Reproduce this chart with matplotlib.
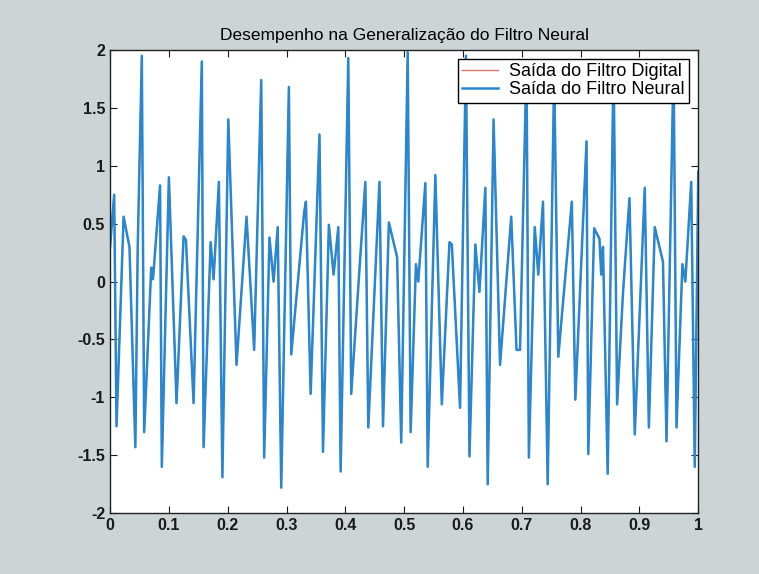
import numpy as np
import matplotlib.pyplot as plt

plt.rcParams['font.family'] = ['Liberation Sans', 'DejaVu Sans']

# pontos de extremo (t em s, amplitude)
t = [0.000, 0.007, 0.011, 0.023, 0.033, 0.043, 0.047, 0.054, 0.058, 0.070,
     0.073, 0.085, 0.088, 0.100, 0.113, 0.125, 0.129, 0.142, 0.156, 0.159,
     0.171, 0.176, 0.185, 0.191, 0.201, 0.215, 0.232, 0.245, 0.257, 0.262,
     0.271, 0.278, 0.285, 0.291, 0.304, 0.308, 0.330, 0.333, 0.341, 0.356,
     0.362, 0.372, 0.380, 0.388, 0.392, 0.405, 0.410, 0.423, 0.434, 0.439,
     0.458, 0.464, 0.474, 0.488, 0.495, 0.506, 0.511, 0.520, 0.524, 0.536,
     0.540, 0.553, 0.564, 0.577, 0.581, 0.595, 0.605, 0.611, 0.621, 0.628,
     0.638, 0.642, 0.652, 0.663, 0.682, 0.691, 0.697, 0.708, 0.712, 0.722,
     0.728, 0.736, 0.744, 0.755, 0.762, 0.785, 0.791, 0.810, 0.813, 0.823,
     0.832, 0.835, 0.838, 0.846, 0.856, 0.862, 0.872, 0.883, 0.892, 0.909,
     0.916, 0.926, 0.940, 0.946, 0.958, 0.963, 0.973, 0.978, 0.988, 0.994,
     1.000]
y = [0.30, 0.75, -1.25, 0.56, 0.30, -1.43, 0.29, 1.95, -1.30, 0.12,
     0.02, 0.83, -1.60, 0.90, -1.05, 0.39, 0.36, -1.05, 1.90, -1.43,
     0.34, 0.02, 0.86, -1.69, 1.40, -0.72, 0.56, -0.59, 1.74, -1.52,
     0.38, 0.00, 0.47, -1.78, 1.68, -0.63, 0.60, 0.69, -0.97, 1.27,
     -1.47, 0.49, 0.06, 0.47, -1.64, 1.93, -0.97, 0.03, 0.86, -1.26,
     0.86, -1.25, 0.51, 0.21, -1.39, 1.98, -1.30, 0.15, 0.00, 0.85,
     -1.60, 0.92, -1.06, 0.34, 0.32, -1.09, 1.95, -1.51, 0.32, -0.09,
     0.81, -1.75, 1.40, -0.72, 0.56, -0.59, -0.59, 1.90, -1.52, 0.47,
     0.06, 0.69, -1.75, 1.80, -0.65, 0.69, -1.02, 1.21, -1.49, 0.46,
     0.37, 0.06, 0.30, -1.66, 1.90, -1.06, -0.10, 0.72, -1.32, 0.81,
     -1.26, 0.47, 0.17, -1.38, 1.90, -1.26, 0.15, 0.00, 0.86, -1.60,
     0.95]

xticks = np.arange(0, 1.01, 0.1)
xlabels = ['0', '0.1', '0.2', '0.3', '0.4', '0.5', '0.6', '0.7', '0.8', '0.9', '1']
yticks = np.arange(-2, 2.01, 0.5)
ylabels = ['-2', '-1.5', '-1', '-0.5', '0', '0.5', '1', '1.5', '2']

fig = plt.figure(figsize=(7.59, 5.74), dpi=100, facecolor='#cdd4d5')
ax = fig.add_axes([0.145, 0.106, 0.775, 0.807])
ax.set_facecolor('white')

ax.plot(t, y, color='#d9756e', lw=1.0, label='Saída do Filtro Digital')
ax.plot(t, y, color='#2a87cf', lw=1.8, label='Saída do Filtro Neural')

ax.set_xlim(0, 1)
ax.set_ylim(-2, 2)
ax.set_xticks(xticks)
ax.set_xticklabels(xlabels, fontweight='bold')
ax.set_yticks(yticks)
ax.set_yticklabels(ylabels, fontweight='bold')
ax.tick_params(direction='in', top=True, right=True, length=5,
               labelsize=11.5, colors='#1a1a1a')
for s in ax.spines.values():
    s.set_linewidth(1.0)
    s.set_color('#222222')

ax.set_title('Desempenho na Generalização do Filtro Neural', fontsize=12.5, pad=7)

leg = ax.legend(loc='upper right', fontsize=13, frameon=True, fancybox=False,
                borderpad=0.25, labelspacing=0.05, handlelength=2.0,
                handletextpad=0.6, borderaxespad=0.5)
leg.get_frame().set_edgecolor('black')
leg.get_frame().set_linewidth(1.0)
leg.get_frame().set_alpha(1)
leg.set_zorder(5)

fig.savefig('out.png', dpi=100, facecolor=fig.get_facecolor())
